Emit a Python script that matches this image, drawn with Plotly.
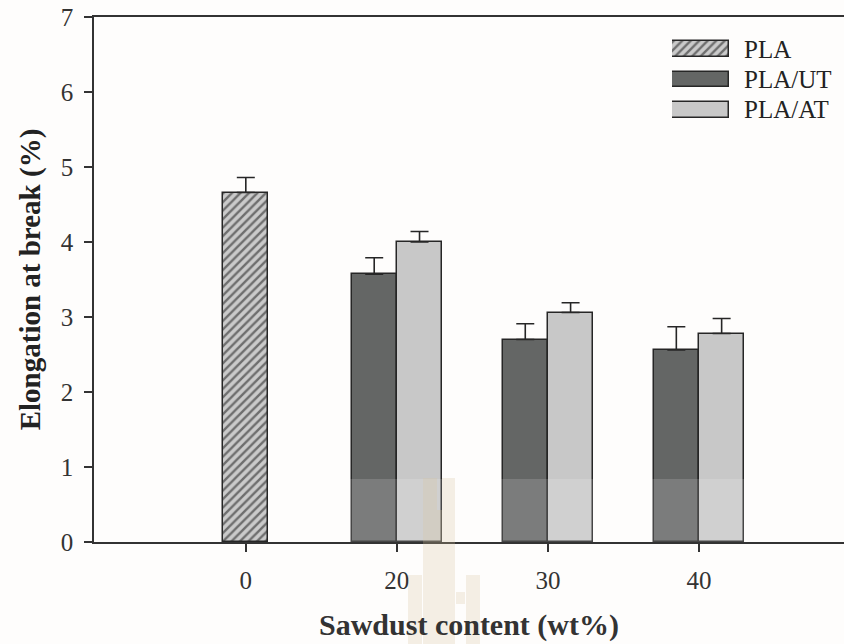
import plotly.graph_objects as go

categories = ["0", "20", "30", "40"]
pla_cat = ["0"]
pla_vals = [4.66]
pla_err = [0.20]
filled_cats = ["20", "30", "40"]
ut_vals = [3.57, 2.70, 2.56]
ut_err = [0.22, 0.21, 0.31]
at_vals = [4.00, 3.06, 2.78]
at_err = [0.14, 0.13, 0.20]
legend_names = ["PLA", "PLA/UT", "PLA/AT"]
y_ticks = [0, 1, 2, 3, 4, 5, 6, 7]

FONT = "Liberation Serif, Times New Roman, serif"
EDGE = "#262626"
UT_COL = "#646665"
AT_COL = "#c8c8c8"
PLA_BG = "#cacaca"
BAR_W = 0.3

fig = go.Figure()

err_style = dict(type="data", symmetric=False, thickness=1.6, width=9, color=EDGE)
pla_marker = dict(color=PLA_BG, line=dict(color=EDGE, width=1.5),
                  pattern=dict(shape="/", fgcolor="#111111", bgcolor=PLA_BG, size=6, solidity=0.4))

fig.add_trace(go.Bar(
    x=pla_cat, y=pla_vals, width=BAR_W, offset=-BAR_W / 2, name="PLA",
    marker=pla_marker,
    error_y=dict(array=pla_err, arrayminus=[0] * len(pla_err), **err_style),
    showlegend=False,
))
fig.add_trace(go.Bar(
    x=filled_cats, y=ut_vals, width=BAR_W, offset=-BAR_W, name="PLA/UT",
    marker=dict(color=UT_COL, line=dict(color=EDGE, width=1.5)),
    error_y=dict(array=ut_err, arrayminus=[0] * len(ut_err), **err_style),
    showlegend=False,
))
fig.add_trace(go.Bar(
    x=filled_cats, y=at_vals, width=BAR_W, offset=0, name="PLA/AT",
    marker=dict(color=AT_COL, line=dict(color=EDGE, width=1.5)),
    error_y=dict(array=at_err, arrayminus=[0] * len(at_err), **err_style),
    showlegend=False,
))

# Legend replica (wide swatches) on a small hidden axis pair
leg_fills = [
    pla_marker,
    dict(color=UT_COL, line=dict(color=EDGE, width=1.5)),
    dict(color=AT_COL, line=dict(color=EDGE, width=1.5)),
]
for i, (nm, mk) in enumerate(zip(legend_names, leg_fills)):
    fig.add_trace(go.Bar(
        x=[1], y=[i], orientation="h", width=0.52, marker=mk,
        xaxis="x2", yaxis="y2", showlegend=False, hoverinfo="skip",
    ))
    fig.add_annotation(x=1, y=i, xref="x2", yref="y2", text=nm, showarrow=False,
                       xanchor="left", xshift=13, font=dict(family=FONT, size=25, color="#222"))

W, H = 844, 644
ml, mr, mt, mb = 94, 0, 17, 102
PW, PH = W - ml - mr, H - mt - mb


def px(x):
    return (x - ml) / PW


def py(y):
    return (H - mb - y) / PH


fig.update_layout(
    width=W, height=H,
    margin=dict(l=ml, r=mr, t=mt, b=mb),
    paper_bgcolor="#fefdfc", plot_bgcolor="#fefdfc",
    barmode="overlay", bargap=0,
    font=dict(family=FONT, size=25, color="#333"),
    xaxis=dict(
        type="category", categoryorder="array", categoryarray=categories,
        range=[-1.005, 3.96],
        showline=True, linecolor="#333", linewidth=1.6, mirror=True,
        ticks="outside", ticklen=8, tickwidth=1.6, tickcolor="#333",
        ticklabelstandoff=7,
        showgrid=False, zeroline=False,
        title=dict(text="<b>Sawdust content (wt%)</b>", font=dict(size=30, color="#333"), standoff=21),
    ),
    yaxis=dict(
        range=[0, 7], tickvals=y_ticks,
        showline=True, linecolor="#333", linewidth=1.6,
        ticks="outside", ticklen=8, tickwidth=1.6, tickcolor="#333",
        ticklabelstandoff=6,
        showgrid=False, zeroline=False,
        title=dict(text="<b>Elongation at break (%)</b>", font=dict(size=29, color="#222"), standoff=12),
    ),
    xaxis2=dict(domain=[px(672), px(729)], range=[0, 1], visible=False, anchor="y2", fixedrange=True),
    yaxis2=dict(domain=[py(125), py(34)], range=[2.5, -0.5], visible=False, anchor="x2", fixedrange=True),
)

# Watermark-like translucent band and faint logo
fig.add_shape(type="rect", xref="paper", yref="paper",
              x0=px(300), x1=px(790), y0=0, y1=py(479),
              fillcolor="white", opacity=0.15, line=dict(width=0), layer="above")
logo_rects = [
    (423, 437, 478, 510), (442, 455, 478, 510), (423, 455, 510, 644),
    (408, 422, 575, 644), (456, 465, 592, 604), (466, 480, 575, 644),
]
for (x0, x1, y0, y1) in logo_rects:
    fig.add_shape(type="rect", xref="paper", yref="paper",
                  x0=px(x0), x1=px(x1), y0=py(y1), y1=py(y0),
                  fillcolor="#d9c49a", opacity=0.25, line=dict(width=0), layer="above")

fig.write_html("out.html")
